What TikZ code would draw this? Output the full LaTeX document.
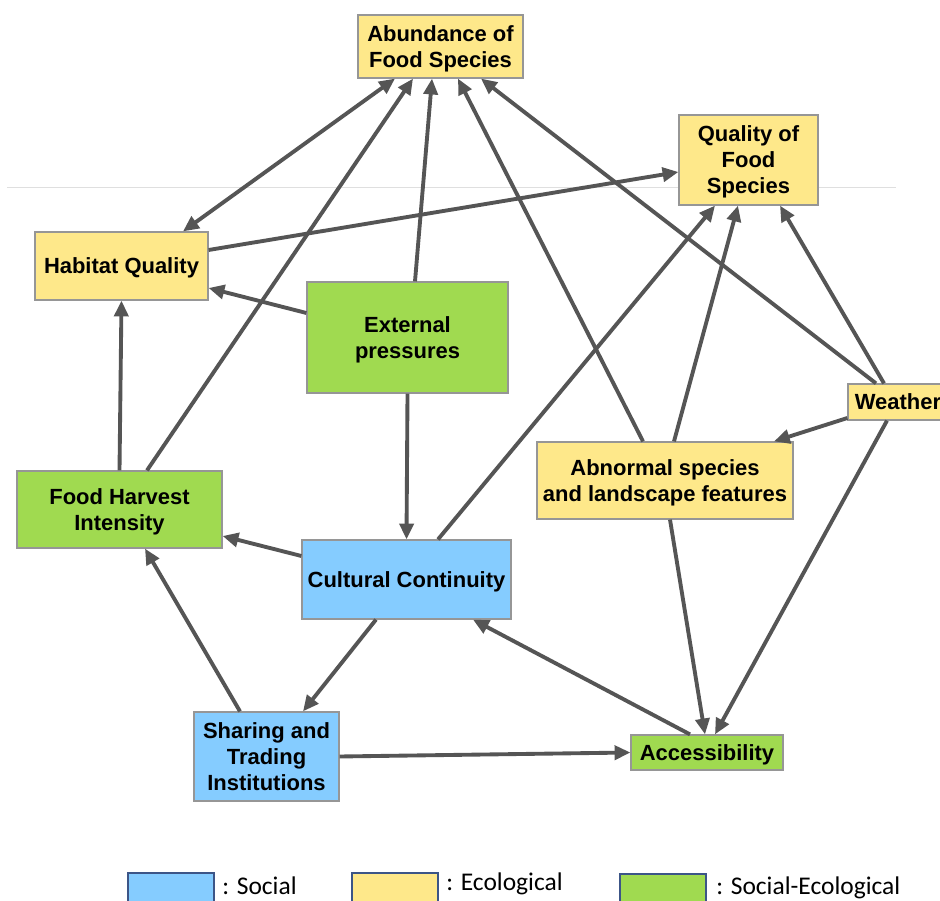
\documentclass[tikz,border=0pt]{standalone}
\usepackage{fontspec}
\setmainfont{Liberation Sans}
\newfontfamily\legendfont{Carlito}
\usetikzlibrary{arrows.meta,calc}
\definecolor{ecoY}{RGB}{254,232,138}
\definecolor{socB}{RGB}{133,204,255}
\definecolor{seG}{RGB}{160,218,80}
\definecolor{boxline}{RGB}{150,150,150}
\definecolor{arrowc}{RGB}{85,85,85}
\definecolor{legline}{RGB}{60,85,135}
\tikzset{
  nodebox/.style={draw=boxline, line width=0.7pt, align=center, inner sep=2pt, text depth=0pt,
    font=\bfseries\fontsize{12.5}{14.8}\selectfont},
  eco/.style={nodebox, fill=ecoY},
  soc/.style={nodebox, fill=socB},
  seco/.style={nodebox, fill=seG},
  link/.style={draw=arrowc, line width=2.2pt, -{Triangle[length=9pt,width=8pt]}},
  blink/.style={draw=arrowc, line width=2.2pt, {Triangle[length=9pt,width=8pt]}-{Triangle[length=9pt,width=8pt]}},
  legbox/.style={draw=legline, line width=0.8pt, minimum width=1.72cm, minimum height=0.64cm, inner sep=0pt},
  legtext/.style={anchor=west, inner sep=0pt, font=\legendfont\fontsize{14.5}{16}\selectfont}
}
\begin{document}
\begin{tikzpicture}[x=0.02cm, y=-0.02cm]
\useasboundingbox (0,0) rectangle (940,901);
\fill[white] (0,0) rectangle (940,901);
\draw[gray!25, line width=0.5pt] (7,187) -- (896,187);

% nodes
\node[eco, minimum width=3.3cm, minimum height=1.26cm] (abund) at (440.5,46.5) {Abundance of\\Food Species};
\node[eco, minimum width=2.78cm, minimum height=1.8cm] (qual) at (748.5,160) {Quality of\\Food\\Species};
\node[eco, minimum width=3.46cm, minimum height=1.36cm] (hab) at (121.5,266) {Habitat Quality};
\node[seco, minimum width=4.02cm, minimum height=2.22cm] (ext) at (407.5,337.5) {External\\pressures};
\node[eco, minimum width=2.0cm, minimum height=0.72cm] (weather) at (898,402) {Weather};
\node[eco, minimum width=5.12cm, minimum height=1.54cm] (abn) at (665,480.5) {Abnormal species\\and landscape features};
\node[seco, minimum width=4.1cm, minimum height=1.54cm] (fh) at (119.5,509.5) {Food Harvest\\Intensity};
\node[soc, minimum width=4.18cm, minimum height=1.58cm] (cult) at (406.5,579.5) {Cultural Continuity};
\node[soc, minimum width=2.9cm, minimum height=1.78cm] (share) at (266.5,756.5) {Sharing and\\Trading\\Institutions};
\node[seco, minimum width=3.04cm, minimum height=0.7cm] (acc) at (707,752.5) {Accessibility};

% connectors
\draw[blink] ($(hab.north)+(61.5,0)$) -- ($(abund.south)+(-45.5,0)$);
\draw[link] ($(fh.north)+(27.5,0)$) -- ($(abund.south)+(-27.5,0)$);
\draw[link] ($(ext.north)+(7.5,0)$) -- ($(abund.south)+(-8.5,0)$);
\draw[link] ($(abn.north)+(-22,0)$) -- ($(abund.south)+(17.5,0)$);
\draw[link] ($(weather.north)+(-22,0)$) -- ($(abund.south)+(40.5,0)$);
\draw[link] ($(hab.east)+(0,-16)$) -- ($(qual.west)+(0,12)$);
\draw[link] ($(cult.north)+(31.5,0)$) -- ($(qual.south)+(-33.5,0)$);
\draw[link] ($(abn.north)+(9,0)$) -- ($(qual.south)+(-10.5,0)$);
\draw[link] ($(weather.north)+(-14,0)$) -- ($(qual.south)+(31.5,0)$);
\draw[link] ($(ext.west)+(0,-24.5)$) -- ($(hab.east)+(0,22)$);
\draw[link] (fh.north) -- (hab.south);
\draw[link] (ext.south) -- (cult.north);
\draw[link] ($(weather.west)+(0,16)$) -- ($(abn.north)+(109,0)$);
\draw[link] ($(cult.west)+(0,-23.5)$) -- ($(fh.east)+(0,26.5)$);
\draw[link] ($(share.north)+(-26.5,0)$) -- ($(fh.south)+(25.5,0)$);
\draw[link] ($(cult.south)+(-30.5,0)$) -- ($(share.north)+(36.5,0)$);
\draw[link] (share.east) -- (acc.west);
\draw[link] ($(acc.north)+(-17,0)$) -- ($(cult.south)+(66.5,0)$);
\draw[link] ($(abn.south)+(5,0)$) -- ($(acc.north)+(-2,0)$);
\draw[link] ($(weather.south)+(-11,0)$) -- ($(acc.north)+(8,0)$);

% legend
\node[legbox, fill=socB] (lsoc) at (171,889) {};
\node[legtext] (lsoct) at (222,886) {: Social};
\node[legbox, fill=ecoY] (leco) at (395,889) {};
\node[legtext] (lecot) at (446,884) {: Ecological};
\node[legbox, fill=seG] (lse) at (663,890) {};
\node[legtext] (lset) at (716,888) {: Social-Ecological};
\end{tikzpicture}
\end{document}
